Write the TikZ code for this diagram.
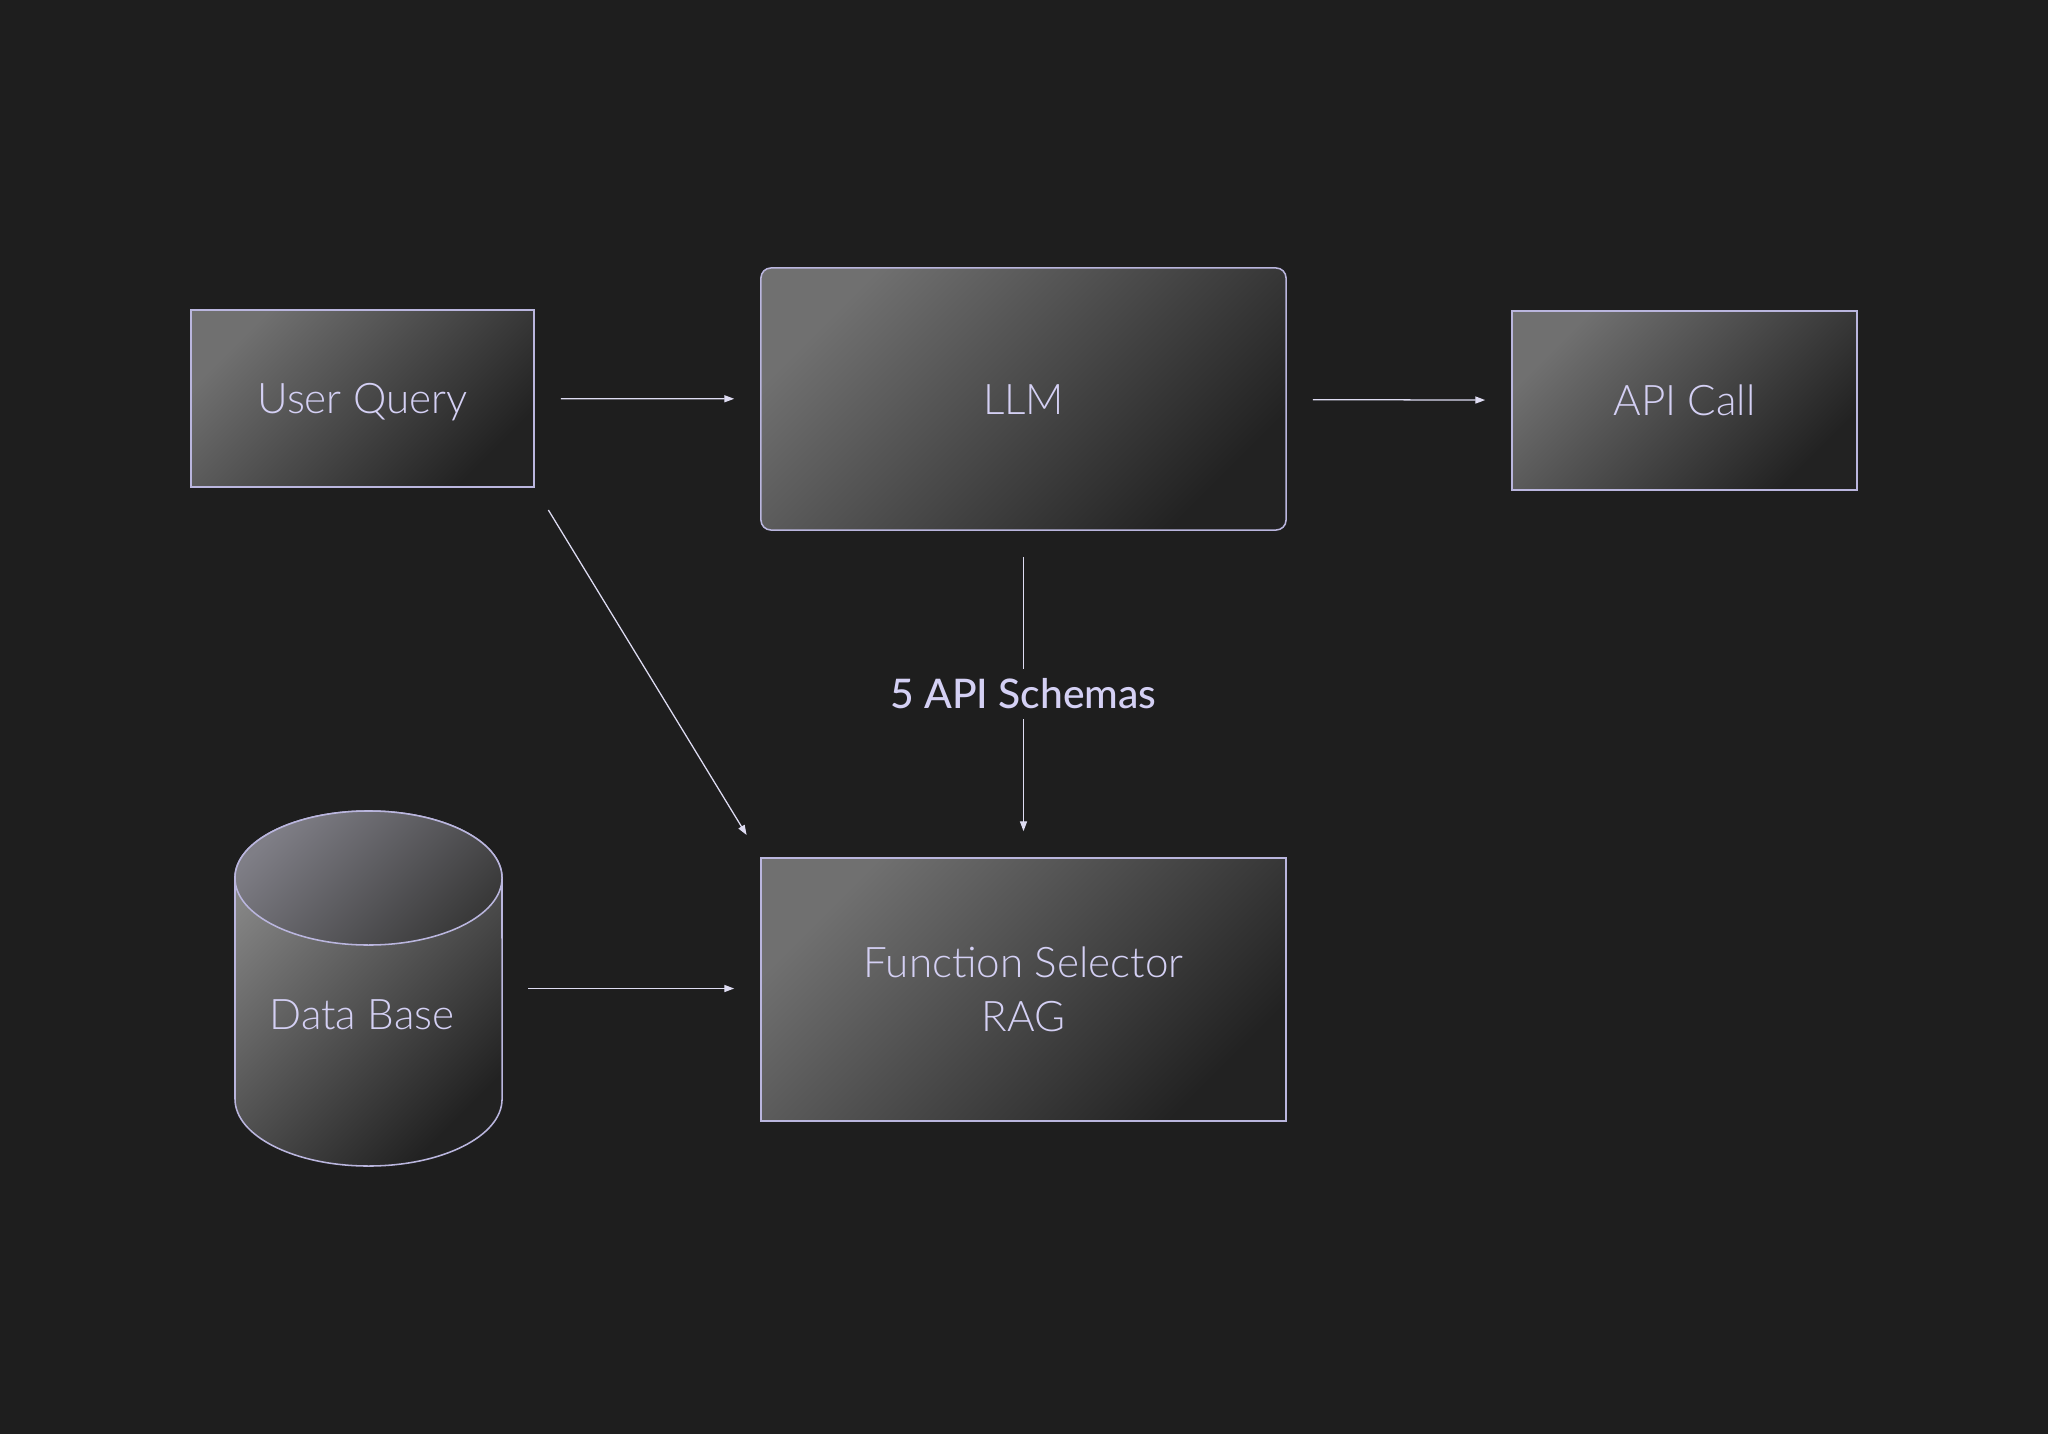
\documentclass[tikz,border=0pt]{standalone}
\usepackage{fontspec}
\setmainfont{Lato}
\newfontfamily\stagefont{Lato}[UprightFont={* Light}]
\newfontfamily\tagfont{Lato}[UprightFont={* Medium}]
\usepackage{tikz}
\usetikzlibrary{arrows.meta, positioning, calc, shapes.geometric}
\definecolor{pipebg}{RGB}{30, 30, 30}
\definecolor{pipelight}{RGB}{112, 112, 112}
\definecolor{pipedark}{RGB}{34, 34, 34}
\definecolor{pipeedge}{RGB}{186, 182, 222}
\definecolor{pipetext}{RGB}{212, 208, 244}
\definecolor{pipearrow}{RGB}{222, 220, 242}
\tikzset{
    stage/.style={rectangle, draw=pipeedge, line width=1.1pt, top color=pipelight, bottom color=pipedark, shading angle=45, text=pipetext, font=\stagefont\fontsize{30}{38}\selectfont, align=center, inner sep=0pt},
    oneline/.style={text height=21.5pt, text depth=0pt},
    flow/.style={draw=pipearrow, line width=0.9pt, -{Triangle[length=7pt, width=5pt]}, shorten <=0.65cm, shorten >=0.65cm},
    tag/.style={fill=pipebg, text=pipetext, font=\tagfont\fontsize{29}{34}\selectfont, inner xsep=2pt, inner ysep=0.25cm}
}
\begin{document}
\begin{tikzpicture}[x=0.025cm, y=-0.025cm]
    \fill[pipebg] (0,0) rectangle (2048,1434);
    \useasboundingbox (0,0) rectangle (2048,1434);

    % Stages
    \node[stage, oneline, minimum width=8.575cm, minimum height=4.425cm] (query) at (362.5,398.5) {User Query};
    \node[stage, oneline, rounded corners=0.25cm, minimum width=13.125cm, minimum height=6.55cm] (llm) at (1023.5,399) {LLM};
    \node[stage, oneline, minimum width=8.625cm, minimum height=4.475cm] (apicall) at (1684.5,400.5) {API Call};
    \node[stage, minimum width=13.125cm, minimum height=6.575cm] (select) at (1023.5,989.5) {Function Selector\\RAG};

    % Data base cylinder
    \draw[pipeedge, line width=1.1pt, top color=pipelight!85, bottom color=pipedark, shading angle=45]
        (235,878) -- (235,1099) arc[start angle=180, end angle=360, x radius=3.3375cm, y radius=1.675cm]
        -- (502,878) arc[start angle=0, end angle=180, x radius=3.3375cm, y radius=1.675cm] -- cycle;
    \draw[pipeedge, line width=1.1pt, top color=pipelight!80!pipeedge, bottom color=pipedark!70!pipelight, shading angle=45]
        (368.5,878) ellipse[x radius=3.3375cm, y radius=1.675cm];
    \node[minimum width=6.675cm, minimum height=8.875cm, inner sep=0pt] (dbase) at (368.5,988.5) {};
    \node[text=pipetext, font=\stagefont\fontsize{30}{38}\selectfont] (dblabel) at (362,1015) {Data Base};

    % Flows
    \draw[flow] (query) -- (llm);
    \draw[flow] (llm) -- (apicall);
    \draw[flow] (llm) -- node[tag] {5 API Schemas} (select);
    \draw[flow] (query.south east) -- (select.north west);
    \draw[flow] (dbase.east) -- (select.west |- dbase.east);
\end{tikzpicture}
\end{document}
